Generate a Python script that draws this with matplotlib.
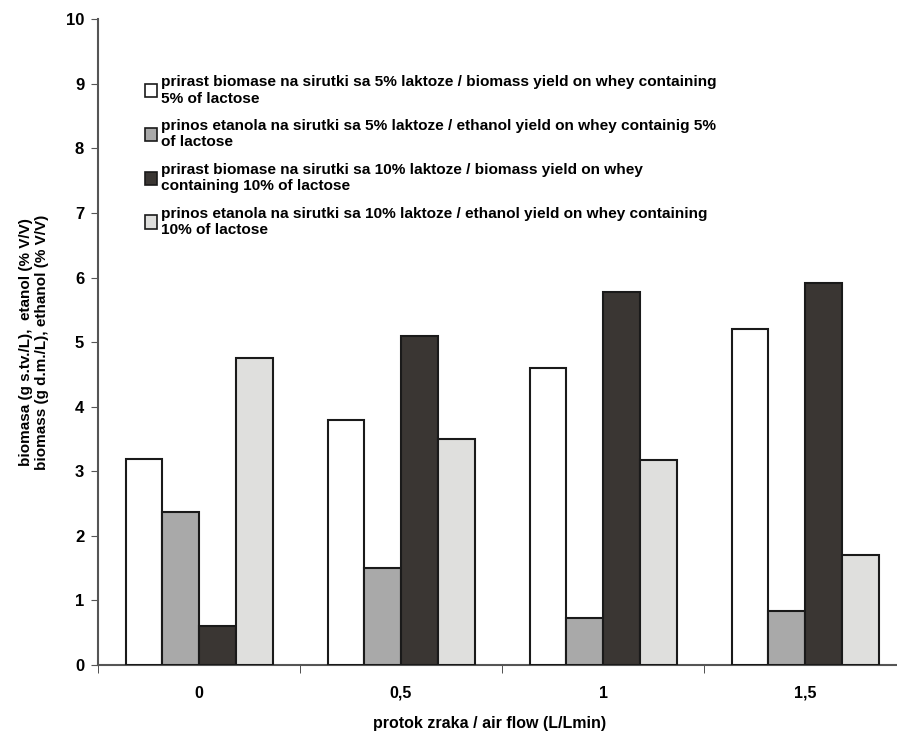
import matplotlib.pyplot as plt
import numpy as np

plt.rcParams['font.family'] = ['Liberation Sans', 'DejaVu Sans']
plt.rcParams['font.weight'] = 'bold'

# data
flow = ['0', '0,5', '1', '1,5']
biomass_5 = [3.19, 3.80, 4.60, 5.20]
ethanol_5 = [2.37, 1.50, 0.73, 0.84]
biomass_10 = [0.60, 5.10, 5.77, 5.91]
ethanol_10 = [4.75, 3.50, 3.17, 1.70]

labels = [
    'prirast biomase na sirutki sa 5% laktoze / biomass yield on whey containing\n5% of lactose',
    'prinos etanola na sirutki sa 5% laktoze / ethanol yield on whey containig 5%\nof lactose',
    'prirast biomase na sirutki sa 10% laktoze / biomass yield on whey\ncontaining 10% of lactose',
    'prinos etanola na sirutki sa 10% laktoze / ethanol yield on whey containing\n10% of lactose',
]
colors = ['#ffffff', '#a9a9a9', '#3a3633', '#dfdfdd']
series = [biomass_5, ethanol_5, biomass_10, ethanol_10]

fig = plt.figure(figsize=(8.97, 7.33), dpi=100)
# axes run a little past the right edge of the figure, as in the original
ax = fig.add_axes([0.1093, 0.0928, 0.9008, 0.881])

x = np.arange(len(flow))
w = 0.182
for i, (vals, c, lab) in enumerate(zip(series, colors, labels)):
    ax.bar(x + (i - 1.5) * w, vals, w, color=c, edgecolor='#1a1a1a',
           linewidth=1.5, label=lab, zorder=3)

ax.set_xlim(-0.5, len(flow) - 0.5)
ax.set_ylim(0, 10)
ax.set_yticks(range(0, 11))
ax.set_xticks(x)
ax.set_xticklabels(flow)
ax.set_xticks(np.arange(-0.5, len(flow)), minor=True)
ax.tick_params(axis='x', which='major', length=0, labelsize=11.5, pad=15)
ax.tick_params(axis='x', which='minor', length=6, color='#333333')
ax.tick_params(axis='y', length=5, labelsize=12, color='#555555', pad=5)

for s in ['top', 'right']:
    ax.spines[s].set_visible(False)
ax.spines['left'].set_color('#555555')
ax.spines['bottom'].set_color('#555555')
ax.spines['left'].set_linewidth(1.5)
ax.spines['bottom'].set_linewidth(1.5)

ax.set_xlabel('protok zraka / air flow (L/Lmin)', fontsize=11.5, fontweight='bold')
ax.xaxis.set_label_coords(0.485, -0.079)
ax.set_ylabel('biomasa (g s.tv./L),  etanol (% V/V)\nbiomass (g d.m./L), ethanol (% V/V)',
              fontsize=11, fontweight='bold', labelpad=12)

leg = ax.legend(loc='upper left', bbox_to_anchor=(0.058, 0.913), frameon=False,
                fontsize=11.1, handlelength=0.8, handleheight=0.95, handletextpad=0.25,
                labelspacing=0.88, borderpad=0, borderaxespad=0)
for h in leg.legend_handles:
    h.set_linewidth(1.2)

plt.savefig('out.png', dpi=100)
